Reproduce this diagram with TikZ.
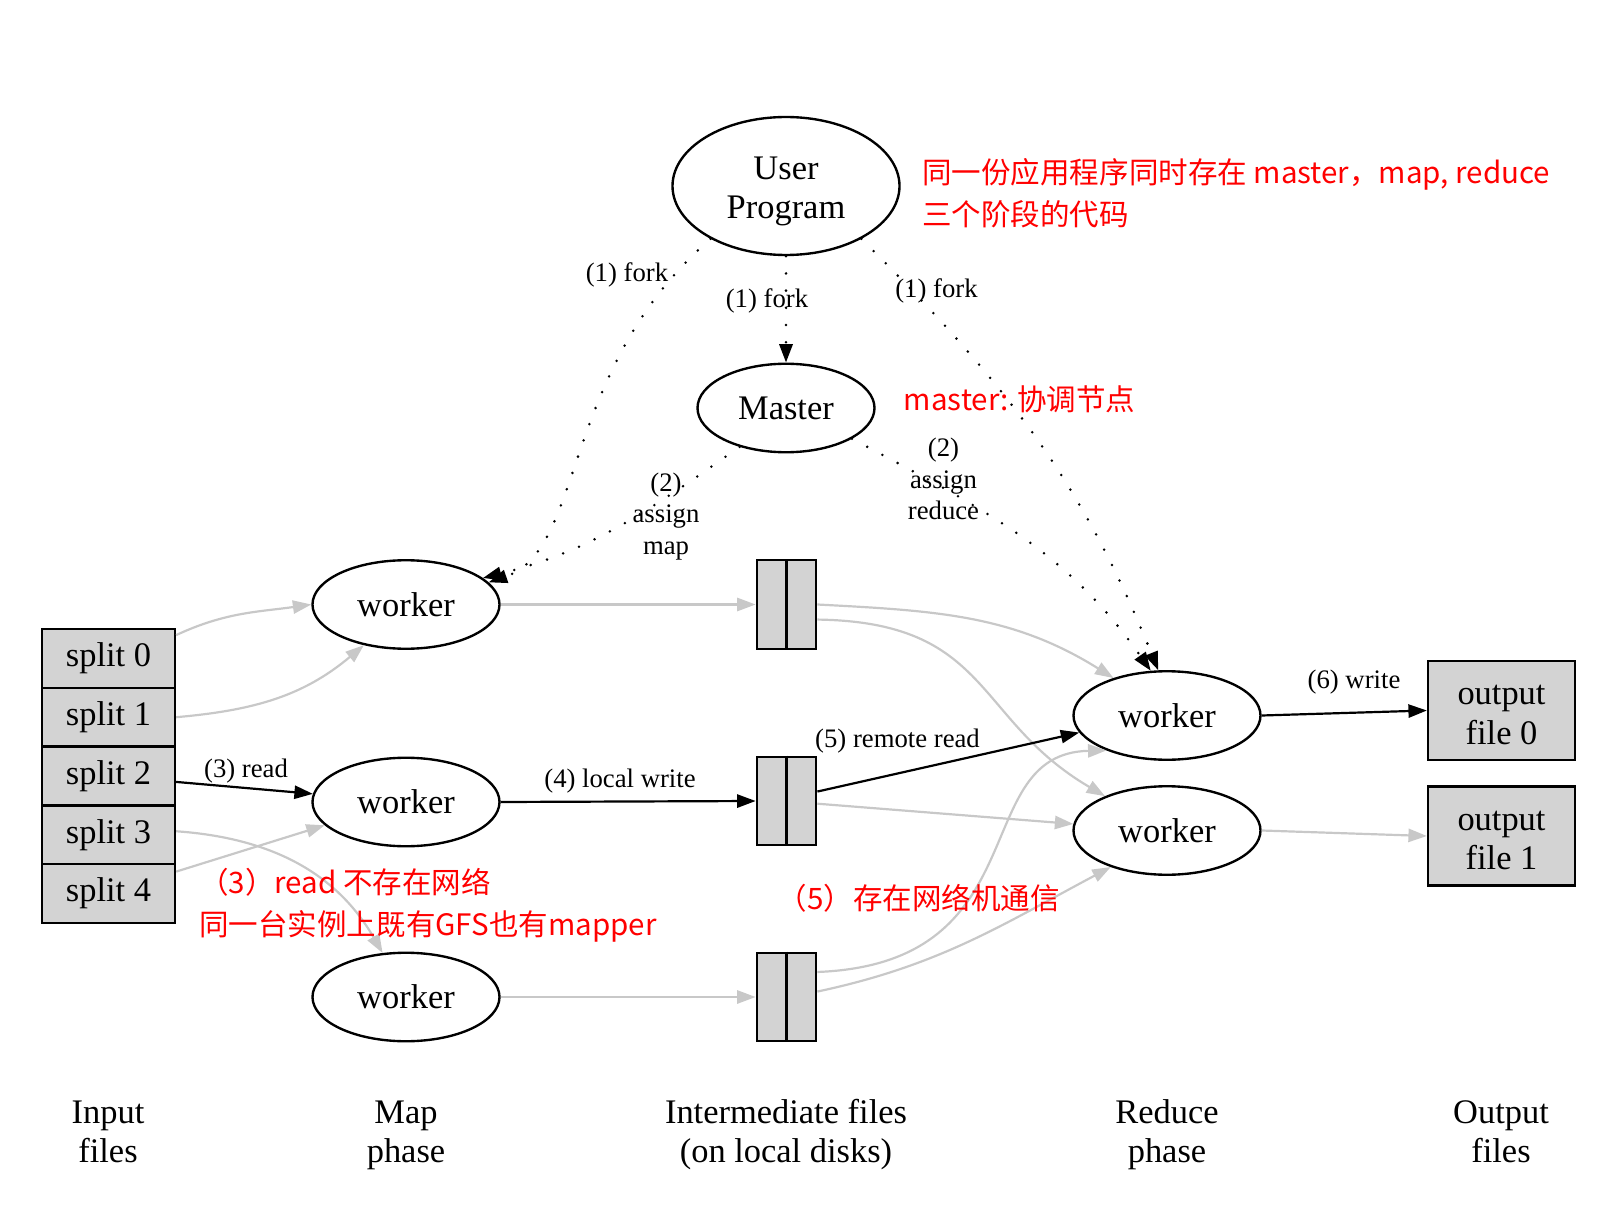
\documentclass[tikz,border=0pt]{standalone}
\usepackage{fontspec}
\setmainfont{Liberation Serif}
\newfontfamily\cjkfont{Noto Sans CJK SC}
\usetikzlibrary{shapes.geometric,arrows.meta}

\definecolor{boxgray}{RGB}{211,211,211}
\definecolor{edgegray}{RGB}{200,200,200}
\definecolor{notered}{RGB}{255,0,0}

\newcommand{\nodefont}{\fontsize{19.6}{22.4}\selectfont}
\newcommand{\edgefont}{\fontsize{15.2}{18.1}\selectfont}
\newcommand{\notefont}{\cjkfont\fontsize{16.8}{23.8}\selectfont}

\tikzset{
	worker/.style={ellipse, draw, line width=1.35pt, minimum width=3.74cm, minimum height=1.77cm, inner sep=0pt, font=\nodefont, align=center},
	splitbox/.style={rectangle, draw, fill=boxgray, line width=1.3pt, minimum width=2.66cm, minimum height=1.176cm, inner sep=0pt, font=\nodefont},
	interbox/.style={rectangle, draw, fill=boxgray, line width=1.3pt, minimum width=1.19cm, minimum height=1.77cm, inner sep=0pt},
	outbox/.style={rectangle, draw, fill=boxgray, line width=1.3pt, minimum width=2.94cm, minimum height=1.98cm, inner sep=0pt, font=\nodefont, align=center},
	flow/.style={line width=1.25pt, -{Triangle[length=10.5pt,width=7.5pt]}},
	grayflow/.style={flow, draw=edgegray},
	fork/.style={line width=1.6pt, line cap=round, dash pattern=on 0pt off 9.8pt, -{Triangle[length=10.5pt,width=7.5pt]}},
	phase/.style={font=\nodefont, align=center, inner sep=0pt},
	edgelabel/.style={font=\edgefont, align=center, inner sep=0pt},
	note/.style={font=\notefont, text=notered, align=left, anchor=west, inner sep=0pt}
}

\begin{document}
\begin{tikzpicture}
		\useasboundingbox (0,0) rectangle (32.24,-24.40);
%		\draw[help lines] (0,0) grid (32,-24);
		\path (15.72,-3.72) node(user) [worker, minimum width=4.54cm, minimum height=2.76cm] {\rule{0pt}{21.7pt}User\\Program\strut};
		\path (15.72,-8.16) node(master) [worker, minimum width=3.54cm] {Master};
		\path (8.12,-12.09) node(map0) [worker] {worker};
		\path (8.12,-16.04) node(map1) [worker] {worker};
		\path (8.12,-19.94) node(map2) [worker] {worker};
		\path (23.34,-14.31) node(red0) [worker] {worker};
		\path (23.34,-16.61) node(red1) [worker] {worker};

		\path (2.17,-13.168) node(split0) [splitbox] {split 0};
		\path (2.17,-14.344) node(split1) [splitbox] {split 1};
		\path (2.17,-15.520) node(split2) [splitbox] {split 2};
		\path (2.17,-16.696) node(split3) [splitbox] {split 3};
		\path (2.17,-17.872) node(split4) [splitbox] {split 4};

		\path (15.73,-12.09) node(inter0) [interbox] {};
		\path (15.73,-16.02) node(inter1) [interbox] {};
		\path (15.73,-19.94) node(inter2) [interbox] {};
		\draw[line width=1.3pt] (inter0.north) -- (inter0.south);
		\draw[line width=1.3pt] (inter1.north) -- (inter1.south);
		\draw[line width=1.3pt] (inter2.north) -- (inter2.south);

		\path (30.03,-14.21) node(out0) [outbox] {\rule{0pt}{22.7pt}output\\file 0\strut};
		\path (30.03,-16.72) node(out1) [outbox] {\rule{0pt}{22.7pt}output\\file 1\strut};

		% phases along the bottom
		\path (2.16,-22.70) node(inputlbl) [phase] {Input\strut\\files\strut};
		\path (8.12,-22.70) node(maplbl) [phase] {Map\strut\\phase\strut};
		\path (15.72,-22.70) node(interlbl) [phase] {Intermediate files\strut\\(on local disks)\strut};
		\path (23.34,-22.70) node(reducelbl) [phase] {Reduce\strut\\phase\strut};
		\path (30.02,-22.70) node(outputlbl) [phase] {Output\strut\\files\strut};

		% fork and assign
		\draw[fork] (user.south) -- (master.north);
		\draw[fork] (user.215) .. controls +(-3.03,-2.64) and +(1.94,0.66) .. (map0.15);
		\draw[fork] (master.220) to[out=215,in=14] (map0.19);
		\draw[fork] (user.-35) to[out=-45,in=112] (red0.101);
		\draw[fork] (master.-25) to[out=-28,in=125] (red0.110);

		% data flow
		\draw[grayflow] (split0.19) to[out=25,in=188] (map0.west);
		\draw[grayflow] (split1.east) to[out=5,in=220] (map0.224);
		\draw[flow] (split2.-5) -- (map1.175);
		\draw[grayflow] (split3.3) to[out=-4,in=120] (map2.118);
		\draw[grayflow] (split4.18) -- (map1.196);
		\draw[grayflow] (map0.east) -- (inter0.west);
		\draw[flow] (map1.east) -- (inter1.west);
		\draw[grayflow] (map2.east) -- (inter2.west);
		\draw[grayflow] (inter0.east) to[out=-3,in=148] (red0.145);
		\draw[grayflow] (inter0.-26) .. controls +(3.47,-0.05) and +(-2.63,1.54) .. (red1.151);
		\draw[flow] (inter1.17) -- (red0.191);
		\draw[grayflow] (inter1.-5) -- (red1.176);
		\draw[grayflow] (inter2.39) .. controls +(4.47,0.17) and +(-2.80,-0.06) .. (red0.210);
		\draw[grayflow] (inter2.10) to[out=12,in=208] (red1.213);
		\draw[flow] (red0.east) -- (out0.west);
		\draw[grayflow] (red1.east) -- (out1.west);

		\path (12.54,-5.49) node(fork0) [edgelabel] {(1) fork};
		\path (15.34,-6.02) node(fork1) [edgelabel] {(1) fork};
		\path (18.73,-5.82) node(fork2) [edgelabel] {(1) fork};
		\path (13.32,-10.33) node(assignmap) [edgelabel] {(2)\\assign\\map};
		\path (18.87,-9.58) node(assignred) [edgelabel] {(2)\\assign\\reduce};
		\path (4.92,-15.42) node(readlbl) [edgelabel] {(3) read};
		\path (12.40,-15.62) node(writelbl) [edgelabel] {(4) local write};
		\path (17.95,-14.82) node(remotelbl) [edgelabel] {(5) remote read};
		\path (27.08,-13.64) node(outlbl) [edgelabel] {(6) write};

		% notes in red
		\path (18.44,-3.87) node(note0) [note] {同一份应用程序同时存在 master，map, reduce\\三个阶段的代码};
		\path (18.07,-7.98) node(note1) [note] {master: 协调节点};
		\path (3.98,-18.11) node(note2) [note] {（3）read 不存在网络\\同一台实例上既有GFS也有mapper};
		\path (15.55,-17.97) node(note3) [note] {（5）存在网络机通信};
	\end{tikzpicture}
\end{document}
